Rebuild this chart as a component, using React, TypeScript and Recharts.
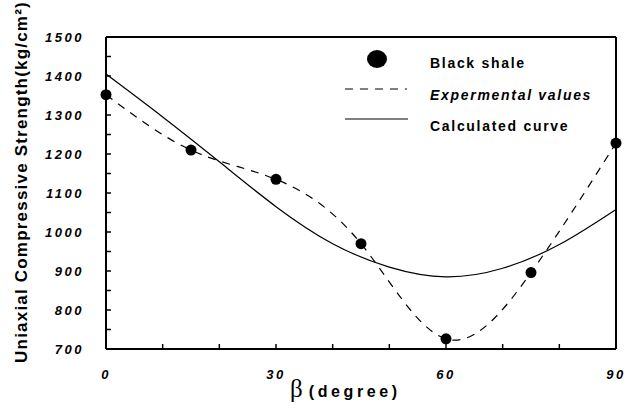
import { LineChart, Line, XAxis, YAxis, ReferenceLine } from "recharts"

const angles = [0, 15, 30, 45, 60, 75, 90]
const measured = [1352, 1210, 1135, 970, 726, 896, 1228]
const calcAngles = [0, 10, 20, 30, 40, 50, 60, 70, 80, 90]
const calculated = [1405, 1295, 1180, 1065, 970, 910, 885, 907, 968, 1058]
const xTicks = [0, 10, 20, 30, 40, 50, 60, 70, 80, 90]
const yTicks = [700, 750, 800, 850, 900, 950, 1000, 1050, 1100, 1150, 1200, 1250, 1300, 1350, 1400, 1450, 1500]
const legendLabels = ["Black shale", "Expermental values", "Calculated curve"]

const allX = Array.from(new Set([...angles, ...calcAngles])).sort((a, b) => a - b)
const data = allX.map((x) => {
  const i = angles.indexOf(x)
  const j = calcAngles.indexOf(x)
  return {
    beta: x,
    measured: i >= 0 ? measured[i] : null,
    calculated: j >= 0 ? calculated[j] : null,
  }
})

const font = "'Liberation Sans', Arial, sans-serif"
const tickStyle = { fill: "#000", fontSize: 13, fontWeight: "bold", fontStyle: "italic", fontFamily: font, letterSpacing: 2.5 }

function ChartLegend() {
  const textStyle = { fontSize: 14, fontWeight: "bold", fontFamily: font, letterSpacing: 1.7 }
  return (
    <svg width={280} height={95} style={{ position: "absolute", left: 340, top: 45 }}>
      <ellipse cx={37} cy={14} rx={10} ry={9} fill="#000" />
      <line x1={5} x2={67} y1={44} y2={44} stroke="#000" strokeWidth={1.2} strokeDasharray="8 7" />
      <line x1={5} x2={68} y1={74} y2={74} stroke="#000" strokeWidth={1.2} />
      <text x={90} y={18} dominantBaseline="central" style={textStyle}>{legendLabels[0]}</text>
      <text x={90} y={50} dominantBaseline="central" style={{ ...textStyle, fontStyle: "italic" }}>{legendLabels[1]}</text>
      <text x={90} y={81} dominantBaseline="central" style={textStyle}>{legendLabels[2]}</text>
    </svg>
  )
}

export default function App() {
  return (
    <div style={{ position: "absolute", left: 0, top: 0, width: 627, height: 408, background: "#fff" }}>
      <LineChart width={627} height={408} data={data} margin={{ top: 37, right: 11, bottom: 0, left: 0 }}>
        <XAxis
          dataKey="beta"
          type="number"
          domain={[0, 90]}
          ticks={xTicks}
          tickFormatter={(v) => (v % 30 === 0 ? String(v) : "")}
          height={59}
          stroke="#000"
          axisLine={{ stroke: "#000", strokeWidth: 2 }}
          tickLine={{ stroke: "#000", strokeWidth: 1.5 }}
          tickSize={-5}
          tickMargin={26}
          tick={tickStyle}
          label={{
            content: () => (
              <text x={290} y={397} fill="#000">
                <tspan fontFamily="'Liberation Serif', serif" fontSize={25}>β</tspan>
                <tspan dx={6} fontFamily={font} fontSize={16} fontWeight="bold" letterSpacing={3.6}>(degree)</tspan>
              </text>
            ),
          }}
        />
        <YAxis
          type="number"
          domain={[700, 1500]}
          ticks={yTicks}
          tickFormatter={(v) => (v % 100 === 0 ? String(v) : "")}
          width={106}
          stroke="#000"
          axisLine={{ stroke: "#000", strokeWidth: 2 }}
          tickLine={{ stroke: "#000", strokeWidth: 1.5 }}
          tickSize={-5}
          tickMargin={27}
          tick={tickStyle}
          label={{
            content: () => (
              <text
                x={21}
                y={182}
                transform="rotate(-90 21 182)"
                textAnchor="middle"
                dominantBaseline="central"
                fill="#000"
                style={{ fontSize: 17, fontWeight: "bold", fontFamily: font, letterSpacing: 1.2 }}
              >
                Uniaxial Compressive Strength(kg/cm²)
              </text>
            ),
          }}
        />
        <ReferenceLine y={1500} stroke="#000" strokeWidth={2} />
        <ReferenceLine x={90} stroke="#000" strokeWidth={2} />
        <Line
          type="natural"
          dataKey="calculated"
          stroke="#000"
          strokeWidth={1.2}
          dot={false}
          connectNulls
          isAnimationActive={false}
        />
        <Line
          type="natural"
          dataKey="measured"
          stroke="#000"
          strokeWidth={1.2}
          strokeDasharray="8 7"
          dot={{ r: 5.5, fill: "#000", stroke: "none" }}
          connectNulls
          isAnimationActive={false}
        />
      </LineChart>
      <ChartLegend />
    </div>
  )
}
